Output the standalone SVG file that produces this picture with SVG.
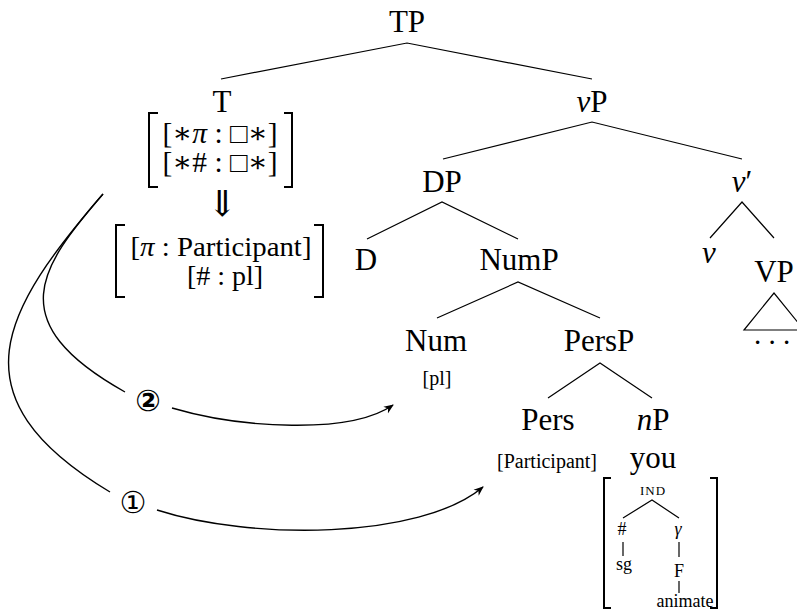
<svg xmlns="http://www.w3.org/2000/svg" width="797" height="613" viewBox="0 0 797 613">
<style>
text{font-family:"Liberation Serif","DejaVu Serif",serif;fill:#000;text-anchor:middle}
.big{font-size:31px}
.mid{font-size:29px}
.row{font-size:28px}
.sm{font-size:20px}
.xs{font-size:18px}
.it{font-style:italic}
.edge{stroke:#000;stroke-width:1.2;fill:none}
.brk{stroke:#000;stroke-width:2;fill:none}
.arc{stroke:#000;stroke-width:1.4;fill:none}
.circ{font-family:"DejaVu Sans",sans-serif;font-size:30px}
</style>
<defs>
<marker id="ah" markerWidth="10" markerHeight="10" refX="9" refY="5" orient="auto" markerUnits="userSpaceOnUse">
<path d="M0,1 L10,5 L0,9 L3,5 z" fill="#000"/>
</marker>
</defs>
<rect width="797" height="613" fill="#fff"/>

<g id="connectors">
<path class="edge" d="M221,79 L407,43 L592,79"/>
<path class="edge" d="M443,159 L592,122 L742,159"/>
<path class="edge" d="M367,239 L442,202 L518,239"/>
<path class="edge" d="M437,318 L518,282 L600,318"/>
<path class="edge" d="M548,398 L600,363 L652,398"/>
<path class="edge" d="M710,238 L742,202 L774,238"/>
<path class="edge" d="M744,330 L774,293 L804,330 Z"/>
<path class="edge" d="M623,518 L652,500 L679,518"/>
<path class="edge" d="M623,542 V556"/>
<path class="edge" d="M679,542 V557"/>
<path class="edge" d="M679,581 V593"/>
<path class="arc" d="M103,194 C40,267 0,322 125,392"/>
<path class="arc" d="M172,408 C240,428 350,435 393,405" marker-end="url(#ah)"/>
<path class="arc" d="M103,194 C3.8,309 -50,396 110,492"/>
<path class="arc" d="M157,510 C250,540 420,540 483,487" marker-end="url(#ah)"/>
</g>

<g id="TP"><text class="big" x="407" y="32">TP</text></g>
<g id="T">
<text class="big" x="222" y="112">T</text>
<path class="brk" d="M158,113 H149 V187 H158"/>
<path class="brk" d="M284,113 H292 V187 H284"/>
<text class="mid" x="220" y="143" textLength="115" lengthAdjust="spacingAndGlyphs">[∗<tspan class="it">π</tspan> : □∗]</text>
<text class="mid" x="220" y="172" textLength="115" lengthAdjust="spacingAndGlyphs">[∗# : □∗]</text>
<text x="222" y="216" style="font-family:'DejaVu Serif',serif;font-size:36px">⇓</text>
<path class="brk" d="M125,225 H116 V297 H125"/>
<path class="brk" d="M314,225 H323 V297 H314"/>
<text class="row" x="221" y="256" textLength="181" lengthAdjust="spacingAndGlyphs">[<tspan class="it">π</tspan> : Participant]</text>
<text class="row" x="225" y="285">[# : pl]</text>
</g>
<g id="vP"><text class="big" x="592" y="112"><tspan class="it">v</tspan>P</text></g>
<g id="DP"><text class="big" x="442" y="192">DP</text></g>
<g id="vbar"><text class="big" x="742" y="192"><tspan class="it">v</tspan>′</text></g>
<g id="D"><text class="big" x="366" y="270">D</text></g>
<g id="NumP"><text class="big" x="519" y="270">NumP</text></g>
<g id="v"><text class="big it" x="709" y="263">v</text></g>
<g id="VP"><text class="big" x="774" y="282">VP</text>
<text class="mid" x="772" y="344">. . .</text></g>
<g id="Num"><text class="big" x="436" y="351">Num</text>
<text class="sm" x="437" y="385">[pl]</text></g>
<g id="PersP"><text class="big" x="599" y="351">PersP</text></g>
<g id="Pers"><text class="big" x="548" y="430">Pers</text>
<text class="sm" x="547" y="468">[Participant]</text></g>
<g id="nP"><text class="big" x="653" y="430"><tspan class="it">n</tspan>P</text>
<text class="big" x="653" y="468">you</text>
<path class="brk" d="M611,478 H604 V608 H611"/>
<path class="brk" d="M710,478 H717 V608 H710"/>
<text x="653" y="495" style="font-size:13px;letter-spacing:1px">IND</text>
<text class="xs" x="622" y="535">#</text>
<text class="xs it" x="678" y="535">γ</text>
<text class="xs" x="624" y="570">sg</text>
<text class="xs" x="679" y="577">F</text>
<text class="xs" x="685" y="607">animate</text>
</g>
<g id="labels">
<text class="circ" x="148" y="411" font-weight="bold">②</text>
<text class="circ" x="133" y="513">①</text>
</g>
</svg>
